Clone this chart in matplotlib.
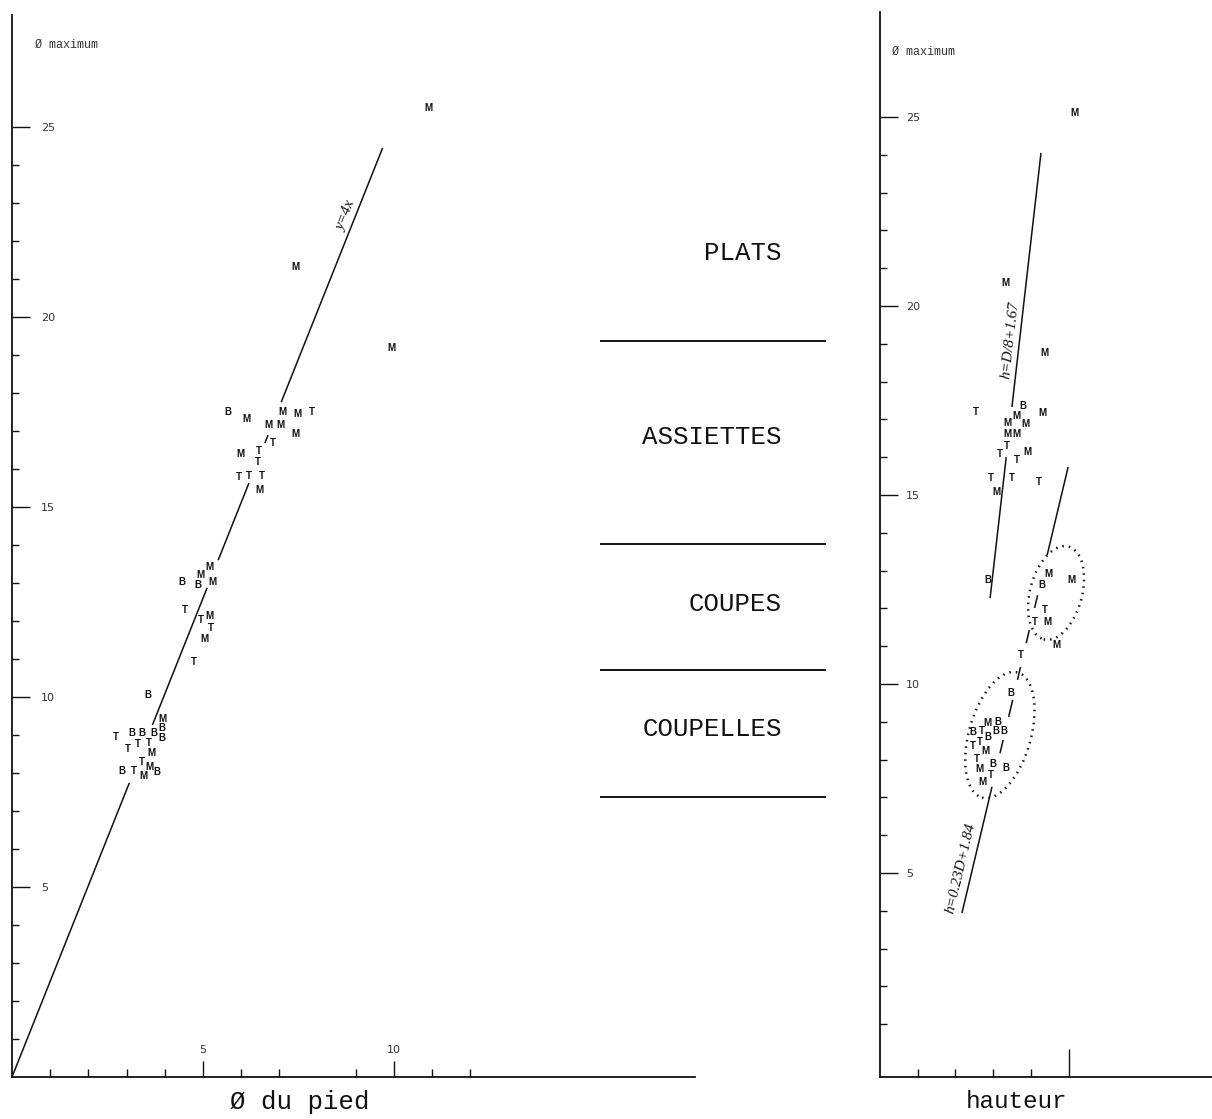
import matplotlib
matplotlib.use("Agg")
import matplotlib.pyplot as plt
from matplotlib.patches import Ellipse

# ---------------- data ----------------
# Left panel: Ø du pied (x) vs Ø maximum (y); letter = marker
left_x = [10.89, 7.43, 9.92, 5.65, 6.13, 7.07, 7.46, 7.85, 6.70, 7.02, 7.43, 6.83,
          5.97, 6.47, 6.44, 5.94, 6.20, 6.54, 6.49,
          5.16, 4.92, 4.45, 4.87, 5.26, 4.53, 4.95, 5.16, 5.21, 5.03, 4.76,
          3.56, 3.93, 3.93, 3.93, 2.72, 3.14, 3.40, 3.72, 3.04, 3.30, 3.59, 3.66,
          3.40, 3.59, 2.88, 3.19, 3.43, 3.80]
left_y = [25.50, 21.32, 19.18, 17.50, 17.32, 17.50, 17.45, 17.50, 17.16, 17.16, 16.92, 16.68,
          16.39, 16.47, 16.18, 15.79, 15.82, 15.82, 15.45,
          13.42, 13.21, 13.03, 12.95, 13.03, 12.29, 12.03, 12.13, 11.82, 11.53, 10.92,
          10.05, 9.42, 9.18, 8.92, 8.95, 9.05, 9.05, 9.05, 8.63, 8.76, 8.79, 8.53,
          8.29, 8.16, 8.05, 8.05, 7.92, 8.03]
left_lab = ["M", "M", "M", "B", "M", "M", "M", "T", "M", "M", "M", "T",
            "M", "T", "T", "T", "T", "T", "M",
            "M", "M", "B", "B", "M", "T", "T", "M", "T", "M", "T",
            "B", "M", "B", "B", "T", "B", "B", "B", "T", "T", "T", "M",
            "T", "M", "B", "T", "M", "B"]
left_slope = 2.52
left_segments = [(0.0, 7.74), (9.26, 12.87), (13.60, 15.63), (16.68, 16.89), (17.76, 24.45)]
left_eq = "y=4x"

# Right panel: hauteur (x) vs Ø maximum (y)
right_x = [5.17, 3.34, 4.35, 2.55, 3.79, 4.30, 3.63, 3.37, 3.87, 3.37, 3.63, 3.37,
           3.18, 3.90, 3.63, 2.94, 3.50, 4.22, 3.10,
           2.86, 4.48, 5.09, 4.30, 4.38, 4.11, 4.43, 4.69, 3.74,
           3.47, 2.86, 3.13, 2.47, 2.71, 2.86, 3.08, 3.29, 2.47, 2.65, 2.79,
           2.57, 2.63, 3.00, 2.94, 3.34, 2.73]
right_y = [25.11, 20.61, 18.76, 17.20, 17.35, 17.17, 17.09, 16.90, 16.88, 16.61, 16.61, 16.30,
           16.08, 16.14, 15.93, 15.45, 15.45, 15.34, 15.08,
           12.75, 12.91, 12.75, 12.62, 11.96, 11.64, 11.64, 11.03, 10.77,
           9.76, 8.97, 8.99, 8.73, 8.76, 8.60, 8.76, 8.76, 8.36, 8.47, 8.23,
           8.02, 7.75, 7.88, 7.59, 7.78, 7.41]
right_lab = ["M", "M", "M", "T", "B", "M", "M", "M", "M", "M", "M", "T",
             "T", "M", "T", "T", "T", "T", "M",
             "B", "M", "M", "B", "T", "T", "M", "M", "T",
             "B", "M", "B", "B", "T", "B", "B", "B", "T", "T", "M",
             "T", "M", "B", "T", "B", "M"]
# h = a + b*D
line1_a, line1_b = 1.514, 0.1146
line1_segments = [(12.27, 16.00), (17.33, 24.05)]
line1_eq = "h=D/8+1.67"
line2_a, line2_b = 1.233, 0.2387
line2_segments = [(3.94, 7.28), (8.17, 8.52), (9.13, 9.58), (10.11, 10.45),
                  (11.08, 11.43), (12.01, 12.35), (13.41, 15.74)]
line2_eq = "h=0.23D+1.84"
# dotted groupings (center x, center y, width, height, angle)
groups = [(4.67, 12.41, 1.38, 2.54, -15), (3.18, 8.65, 1.64, 3.44, -16)]

# Middle: categories and their Ø maximum boundaries
categories = ["PLATS", "ASSIETTES", "COUPES", "COUPELLES"]
category_y = [21.68, 16.84, 12.45, 9.16]
boundaries = [19.37, 14.03, 10.71, 7.37]

y_major = [5, 10, 15, 20, 25]
y_minor = [v for v in range(1, 25) if v % 5]
left_x_major = [5, 10]
left_x_minor = [1, 2, 3, 4, 6, 7, 9, 11, 12]
right_x_major = [5]
right_x_minor = [1, 2, 3, 4]

# ---------------- layout ----------------
W, H = 1212, 1119
fig = plt.figure(figsize=(W / 100, H / 100), dpi=100)
fig.patch.set_facecolor("white")


def rect(x0, x1, ytop, ybot):
    return [x0 / W, 1 - ybot / H, (x1 - x0) / W, (ybot - ytop) / H]


PX = 1 / 1.389  # points per pixel at dpi 100
mono = "Liberation Mono"
ink = "#111111"


def style_axes(ax):
    for s in ("top", "right"):
        ax.spines[s].set_visible(False)
    for s in ("left", "bottom"):
        ax.spines[s].set_linewidth(1.3)
        ax.spines[s].set_color(ink)
    ax.set_facecolor("none")


# ---- left panel ----
axL = fig.add_axes(rect(12, 695, 15, 1077))
axL.set_xlim(0, 683 / 38.2)
axL.set_ylim(0, 1062 / 38.0)
style_axes(axL)
axL.set_yticks(y_major, labels=[str(v) for v in y_major])
axL.set_yticks(y_minor, minor=True)
axL.set_xticks(left_x_major, labels=[str(v) for v in left_x_major])
axL.set_xticks(left_x_minor, minor=True)
axL.tick_params(axis="y", which="major", direction="in", length=18 * PX, width=1.0,
                pad=-29 * PX, labelsize=8, labelcolor="#333333", color=ink)
axL.tick_params(axis="y", which="minor", direction="in", length=7 * PX, width=1.0, color=ink)
axL.tick_params(axis="x", which="major", direction="in", length=16 * PX, width=1.0,
                pad=-27 * PX, labelsize=8, labelcolor="#333333", color=ink)
axL.tick_params(axis="x", which="minor", direction="in", length=8 * PX, width=1.0, color=ink)
for lbl in axL.get_yticklabels():
    lbl.set_ha("left")
for lbl in axL.get_xticklabels():
    lbl.set_va("center")

for y0, y1 in left_segments:
    axL.plot([y0 / left_slope, y1 / left_slope], [y0, y1], color=ink, lw=1.1,
             solid_capstyle="butt", clip_on=False)
for x, y, t in zip(left_x, left_y, left_lab):
    axL.text(x, y, t, ha="center", va="center", fontsize=7, fontweight="bold",
             family="Liberation Sans", color=ink)
axL.text(8.74, 22.66, left_eq, rotation=68.2, ha="center", va="center",
         fontsize=11, family="Liberation Serif", style="italic", color=ink)
axL.text(0.6, 27.16, "Ø maximum", ha="left", va="center", fontsize=8.5,
         family=mono, color="#333333")
axL.text(7.54, -0.66, "Ø du pied", ha="center", va="center", fontsize=18.5,
         family=mono, color=ink, clip_on=False)

# ---- middle panel ----
axM = fig.add_axes(rect(600, 826, 15, 1077))
axM.set_xlim(0, 1)
axM.set_ylim(0, 1062 / 38.0)
axM.axis("off")
for b in boundaries:
    axM.axhline(b, color=ink, lw=1.4)
for name, y in zip(categories, category_y):
    axM.text(0.805, y, name, ha="right", va="center", fontsize=18.5, family=mono, color=ink)

# ---- right panel ----
axR = fig.add_axes(rect(880, 1212, 12, 1077))
axR.set_xlim(0, 332 / 37.7)
axR.set_ylim(25 - 960 / 37.8, 25 + 105 / 37.8)
style_axes(axR)
axR.set_yticks(y_major, labels=[str(v) for v in y_major])
axR.set_yticks(y_minor, minor=True)
axR.set_xticks(right_x_major, labels=[""])
axR.set_xticks(right_x_minor, minor=True)
axR.tick_params(axis="y", which="major", direction="in", length=18 * PX, width=1.0,
                pad=-26 * PX, labelsize=8, labelcolor="#333333", color=ink)
axR.tick_params(axis="y", which="minor", direction="in", length=7 * PX, width=1.0, color=ink)
axR.tick_params(axis="x", which="major", direction="in", length=28 * PX, width=1.0, color=ink)
axR.tick_params(axis="x", which="minor", direction="in", length=8 * PX, width=1.0, color=ink)
for lbl in axR.get_yticklabels():
    lbl.set_ha("left")

for a, b, segs in ((line1_a, line1_b, line1_segments), (line2_a, line2_b, line2_segments)):
    for y0, y1 in segs:
        axR.plot([a + b * y0, a + b * y1], [y0, y1], color=ink, lw=1.1,
                 solid_capstyle="butt")
for cx, cy, w, h, ang in groups:
    axR.add_patch(Ellipse((cx, cy), w, h, angle=ang, fill=False, ec=ink, lw=1.8,
                          linestyle=(0, (0.6, 2.0))))
for x, y, t in zip(right_x, right_y, right_lab):
    axR.text(x, y, t, ha="center", va="center", fontsize=7, fontweight="bold",
             family="Liberation Sans", color=ink)
axR.text(3.45, 19.1, line1_eq, rotation=83.5, ha="center", va="center",
         fontsize=11, family="Liberation Serif", style="italic", color=ink)
axR.text(2.15, 5.13, line2_eq, rotation=76.6, ha="center", va="center",
         fontsize=11, family="Liberation Serif", style="italic", color=ink)
axR.text(0.32, 26.72, "Ø maximum", ha="left", va="center", fontsize=8.5,
         family=mono, color="#333333")
axR.text(3.61, 25 - (1102 - 117) / 37.8, "hauteur", ha="center", va="center",
         fontsize=17.5, family=mono, color=ink, clip_on=False)

fig.savefig("out.png", dpi=100, facecolor="white")
